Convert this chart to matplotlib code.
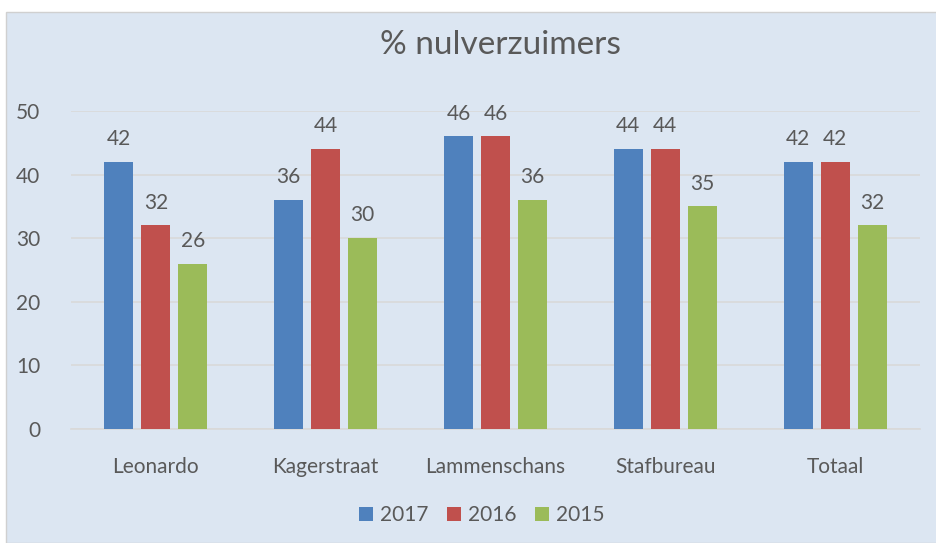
import numpy as np
import matplotlib
matplotlib.use("Agg")
import matplotlib.pyplot as plt
from matplotlib.patches import Rectangle

categories = ["Leonardo", "Kagerstraat", "Lammenschans", "Stafbureau", "Totaal"]
years = ["2017", "2016", "2015"]
v2017 = [42, 36, 46, 44, 42]
v2016 = [32, 44, 46, 44, 42]
v2015 = [26, 30, 36, 35, 32]
colors = ["#4F81BD", "#C0504D", "#9BBB59"]

plt.rcParams['font.family'] = ['Lato', 'DejaVu Sans']
txt = "#595959"
fs = 15

fig = plt.figure(figsize=(9.36, 5.43), dpi=100, facecolor="white")
fig.patches.append(Rectangle((6/936, 0), 1, 1 - 12/543, transform=fig.transFigure,
                             facecolor="#DCE6F2", edgecolor="#D0D0D0", lw=1, zorder=-5))

ax = fig.add_axes([71/936, 1 - 429/543, (920 - 71)/936, (429 - 111)/543])
ax.set_facecolor("none")

x = np.arange(len(categories))
w = 0.17
off = 0.218
for i, (vals, c, lab) in enumerate(zip([v2017, v2016, v2015], colors, years)):
    bars = ax.bar(x + (i - 1) * off, vals, w, color=c, label=lab, zorder=3)
    for b, v in zip(bars, vals):
        ax.text(b.get_x() + b.get_width() / 2, v + 2.0, str(v), ha="center", va="bottom",
                fontsize=fs, color=txt)

ax.set_xlim(-0.5, 4.5)
ax.set_ylim(0, 50)
ax.set_yticks([0, 10, 20, 30, 40, 50])
ax.set_xticks(x)
ax.set_xticklabels(categories)
ax.grid(axis="y", color="#D9D9D9", lw=1.2, zorder=0)
for s in ["top", "right", "left"]:
    ax.spines[s].set_visible(False)
ax.spines["bottom"].set_color("#D9D9D9")
ax.spines["bottom"].set_linewidth(1.2)
ax.tick_params(axis="both", length=0, labelsize=fs, labelcolor=txt)
ax.tick_params(axis="y", pad=22)
ax.tick_params(axis="x", pad=20)

fig.text(500/936, 1 - 45/543, "% nulverzuimers", ha="center", va="center", fontsize=24, color=txt)

fig.legend(loc="center", bbox_to_anchor=(482/936, 1 - 515/543), ncol=3, frameon=False,
           fontsize=fs, labelcolor=txt, handlelength=0.65, handleheight=0.65,
           columnspacing=0.9, handletextpad=0.35)

fig.savefig("out.png", dpi=100, facecolor="white")
